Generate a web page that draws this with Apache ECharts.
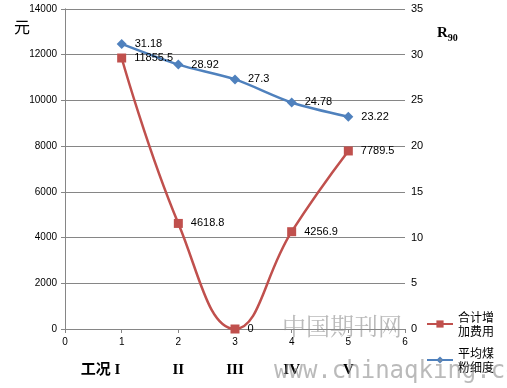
<!DOCTYPE html>
<html><head><meta charset="utf-8">
<script src="https://cdn.jsdelivr.net/npm/echarts@6/dist/echarts.min.js"></script>
<style>html,body{margin:0;padding:0;background:#fff}#c{width:507px;height:388px}</style>
</head><body><div id="c"></div>
<script>
const xPositions = [1, 2, 3, 4, 5];
const caseLabels = ['工况 I', 'II', 'III', 'IV', 'V'];
const costValues = [11855.5, 4618.8, 0, 4256.9, 7789.5];
const finenessValues = [31.18, 28.92, 27.3, 24.78, 23.22];
const costName = '合计增\n加费用';
const finenessName = '平均煤\n粉细度';

const chart = echarts.init(document.getElementById('c'));
const axisFont = {fontFamily: 'Liberation Sans, Arial, sans-serif', fontSize: 10, color: '#000'};
const gridColor = '#868686';
const labelMap = {};
xPositions.forEach((x, i) => labelMap[x] = caseLabels[i]);

chart.setOption({
  animation: false,
  title: [
    {text: '元', left: 9, top: 14, textStyle: {fontFamily: 'Noto Sans CJK SC', fontWeight: 'normal', fontSize: 16, color: '#000'}},
    {text: 'R{s|90}', left: 432, top: 18, textStyle: {fontFamily: 'Liberation Serif, serif', fontWeight: 'bold', fontSize: 15, color: '#000',
      rich: {s: {fontFamily: 'Liberation Serif, serif', fontWeight: 'bold', fontSize: 10, color: '#000', padding: [10, 0, 0, 0]}}}}
  ],
  legend: {
    orient: 'vertical', left: 426, top: 310, itemGap: 8, itemWidth: 26, itemHeight: 9, padding: 0,
    textStyle: {fontFamily: 'Noto Sans CJK SC', fontSize: 12, color: '#000', lineHeight: 14},
    data: [costName, finenessName]
  },
  grid: {left: 65, right: 102, top: 9, bottom: 59},
  xAxis: [
    {type: 'value', min: 0, max: 6, interval: 1,
      axisLine: {show: true, lineStyle: {color: gridColor}},
      axisTick: {show: true, lineStyle: {color: gridColor}, length: 4},
      splitLine: {show: false},
      axisLabel: Object.assign({margin: 8}, axisFont)},
    {type: 'value', min: 0, max: 6, interval: 1, position: 'bottom', offset: 26,
      axisLine: {show: false}, axisTick: {show: false}, splitLine: {show: false},
      axisLabel: {fontFamily: 'Liberation Serif, Noto Sans CJK SC, serif', fontWeight: 'bold', fontSize: 15, color: '#000',
        formatter: v => {
          const t = labelMap[v];
          if (!t) return '';
          return v === 1 ? '{f|' + t + '}' : t;
        },
        rich: {f: {fontFamily: 'Liberation Serif, Noto Sans CJK SC, serif', fontWeight: 'bold', fontSize: 15, color: '#000', padding: [0, 42, 0, 0]}}}}
  ],
  yAxis: [
    {type: 'value', min: 0, max: 14000, interval: 2000,
      axisLine: {show: true, lineStyle: {color: gridColor}},
      axisTick: {show: true, lineStyle: {color: gridColor}, length: 4},
      splitLine: {show: true, lineStyle: {color: gridColor, width: 1}},
      axisLabel: Object.assign({margin: 8, formatter: v => String(v)}, axisFont)},
    {type: 'value', min: 0, max: 35, interval: 5, position: 'right',
      axisLine: {show: true, lineStyle: {color: gridColor}},
      axisTick: {show: true, lineStyle: {color: gridColor}, length: 4},
      splitLine: {show: false},
      axisLabel: Object.assign({margin: 6}, axisFont, {fontSize: 11})}
  ],
  series: [
    {name: costName, type: 'line', smooth: 0.45, xAxisIndex: 0, yAxisIndex: 0,
      data: xPositions.map((x, i) => [x, costValues[i]]),
      symbol: 'rect', symbolSize: 9,
      lineStyle: {color: '#C0504D', width: 2.5}, itemStyle: {color: '#C0504D'},
      label: {show: true, position: 'right', distance: 8, formatter: p => String(p.value[1]),
        fontFamily: 'Liberation Sans, Arial, sans-serif', fontSize: 11, color: '#000'}, z: 3},
    {name: finenessName, type: 'line', smooth: 0.3, xAxisIndex: 0, yAxisIndex: 1,
      data: xPositions.map((x, i) => [x, finenessValues[i]]),
      symbol: 'diamond', symbolSize: 10,
      lineStyle: {color: '#4F81BD', width: 2.5}, itemStyle: {color: '#4F81BD'},
      label: {show: true, position: 'right', distance: 8, formatter: p => String(p.value[1]),
        fontFamily: 'Liberation Sans, Arial, sans-serif', fontSize: 11, color: '#000'}, z: 2}
  ],
  graphic: [
    {type: 'text', left: 282, top: 314, silent: true, z: 100,
      style: {text: '中国期刊网', fill: 'rgba(140,140,140,0.6)', font: '24px "Noto Serif CJK SC", "Noto Sans CJK SC"'}},
    {type: 'text', left: 274, top: 360, silent: true, z: 100,
      style: {text: 'www.chinaqking.com', fill: 'rgba(140,140,140,0.6)', font: '24px "DejaVu Sans Mono", monospace'}}
  ]
});
</script></body></html>
